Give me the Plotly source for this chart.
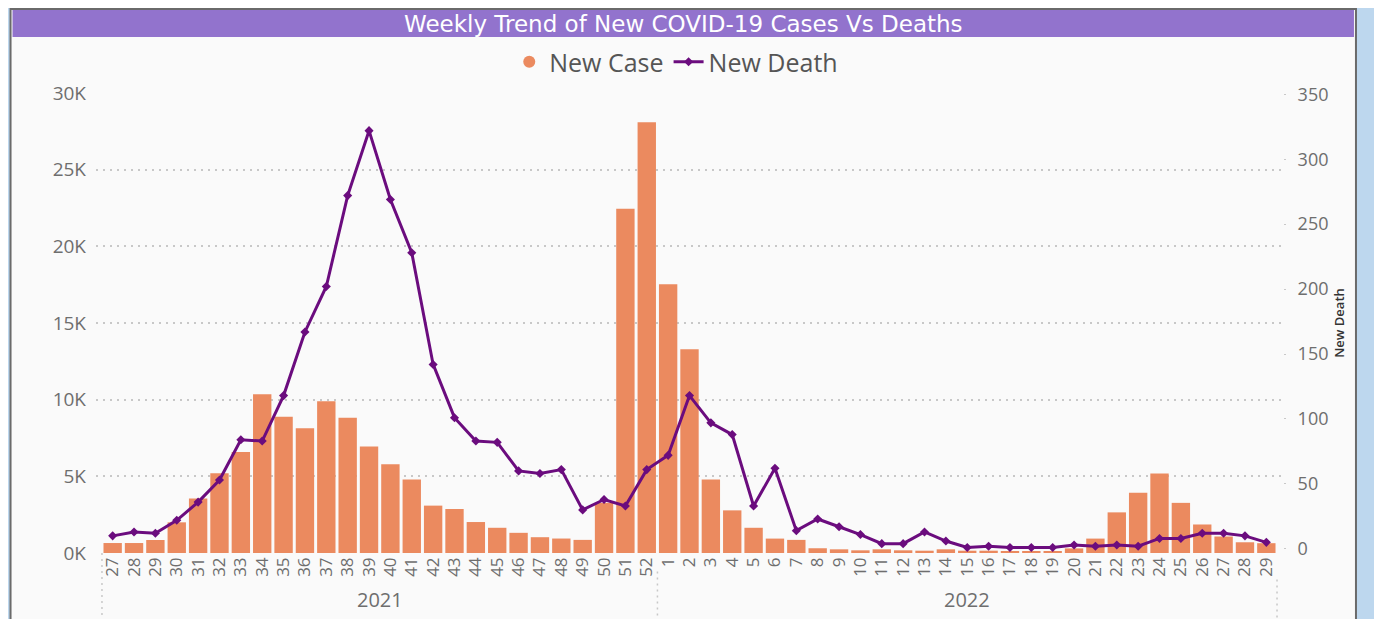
import plotly.graph_objects as go

# weekly data
years = ["2021"] * 26 + ["2022"] * 29
weeks = [str(w) for w in range(27, 53)] + [str(w) for w in range(1, 30)]

new_case = [650, 650, 850, 2000, 3550, 5200, 6580, 10350, 8880, 8140,
            9890, 8820, 6950, 5790, 4800, 3090, 2870, 2020, 1645, 1316,
            1030, 943, 855, 3270, 22450, 28100,
            17520, 13290, 4800, 2780, 1645, 940, 855, 310, 240, 175,
            240, 175, 150, 240, 150, 150, 130, 130, 130, 300,
            940, 2650, 3930, 5180, 3270, 1860, 1075, 700, 640]

new_death = [10, 13, 12, 22, 36, 53, 84, 83, 118, 167,
             202, 272, 322, 269, 228, 142, 101, 83, 82, 60,
             58, 61, 30, 38, 33, 61,
             72, 118, 97, 88, 33, 62, 14, 23, 17, 11,
             4, 4, 13, 6, 1, 2, 1, 1, 1, 3,
             2, 3, 2, 8, 8, 12, 12, 10, 5]

case_ticks = [0, 5000, 10000, 15000, 20000, 25000, 30000]
case_tick_text = ["0K", "5K", "10K", "15K", "20K", "25K", "30K"]
death_ticks = [0, 50, 100, 150, 200, 250, 300, 350]

keys = [y + "-" + w for y, w in zip(years, weeks)]

BAR = "#EB8A5F"
LINE = "#6B0C7E"
GRAY = "#6E6E6E"

# the page body adds an 8px margin, so work in page pixels and shift
OFF = 8
W, H = 1382 - OFF, 619 - OFF
PL, PR, PT, PB = 95.5, 1283, 93, 553.5   # plot area, page pixels


def px(x):
    return (x - PL) / (PR - PL)


def py(y):
    return (PB - y) / (PB - PT)


fig = go.Figure()

fig.add_trace(go.Bar(x=keys, y=new_case, marker_color=BAR, marker_line_width=0,
                     name="New Case", showlegend=False))
fig.add_trace(go.Scatter(x=[None], y=[None], mode="markers", name="New Case",
                         marker=dict(color=BAR, size=12, symbol="circle")))
fig.add_trace(go.Scatter(x=keys, y=new_death, yaxis="y2", mode="lines+markers",
                         name="New Death", line=dict(color=LINE, width=3),
                         marker=dict(symbol="diamond", size=7, color=LINE)))

shapes = [
    # card
    dict(type="rect", xref="paper", yref="paper", layer="below",
         x0=px(10), x1=px(1356), y0=py(650), y1=py(9),
         fillcolor="#FAFAFA", line=dict(color="#6A6A6A", width=2)),
    # title bar
    dict(type="rect", xref="paper", yref="paper", layer="below",
         x0=px(12), x1=px(1354), y0=py(37), y1=py(10),
         fillcolor="#9273CD", line=dict(width=0)),
]

# year dividers under the axis
n21 = years.count("2021")
for xv, ytop in [(-0.5, PB), (n21 - 0.5, 572), (len(keys) - 0.5, 580)]:
    shapes.append(dict(type="line", xref="x", yref="paper",
                       x0=xv, x1=xv, y0=py(ytop), y1=py(640),
                       line=dict(color="#C8C8C8", width=1.5, dash="2px,4px")))

annotations = [
    dict(text="Weekly Trend of New COVID-19 Cases Vs Deaths", xref="paper", yref="paper",
         x=px(683), y=py(23.5), showarrow=False, xanchor="center", yanchor="middle",
         font=dict(family="DejaVu Sans", size=23, color="white")),
]
for yr in ["2021", "2022"]:
    idx = [i for i, y in enumerate(years) if y == yr]
    annotations.append(dict(text=yr, xref="x", yref="paper",
                            x=(idx[0] + idx[-1]) / 2, y=py(600),
                            showarrow=False, xanchor="center", yanchor="middle",
                            font=dict(family="Open Sans", size=20, color=GRAY)))

fig.update_layout(
    width=W, height=H,
    margin=dict(l=PL - OFF, r=1382 - PR, t=PT - OFF, b=619 - PB, autoexpand=False),
    paper_bgcolor="#BDD7EE",
    plot_bgcolor="rgba(0,0,0,0)",
    bargap=0.14,
    shapes=shapes,
    annotations=annotations,
    legend=dict(orientation="h", x=px(676), xanchor="center", y=py(62), yanchor="middle",
                font=dict(family="Open Sans", size=25, color="#555555"),
                bgcolor="rgba(0,0,0,0)", itemwidth=30),
    xaxis=dict(type="category", tickvals=keys, ticktext=weeks, tickangle=-90,
               tickfont=dict(family="Open Sans", size=17, color=GRAY),
               showgrid=False, showline=False, ticks="", automargin=False,
               range=[-0.5 - 0.28, len(keys) - 0.5 + 0.28]),
    yaxis=dict(range=[0, 30000], tickvals=case_ticks, ticktext=case_tick_text,
               tickfont=dict(family="Open Sans", size=19, color=GRAY),
               showgrid=True, gridcolor="#C8C8C8", griddash="2px,5px", gridwidth=1.5,
               zeroline=False, showline=False, ticks="", ticklabelstandoff=9,
               automargin=False),
    yaxis2=dict(overlaying="y", side="right", range=[-3.2, 351], tickvals=death_ticks,
                tickfont=dict(family="Open Sans", size=18, color=GRAY),
                showgrid=False, zeroline=False, showline=False,
                ticks="outside", ticklen=2, tickcolor="#C8C8C8", ticklabelstandoff=8,
                title=dict(text="New Death", standoff=7,
                           font=dict(family="Open Sans", size=13, color="#333333",
                                     weight=600)),
                automargin=False),
)

fig.write_html("out.html")
